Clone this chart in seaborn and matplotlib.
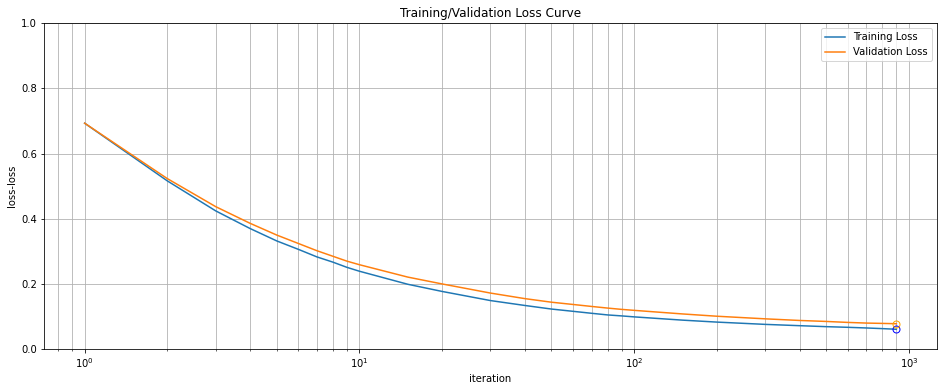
import matplotlib
matplotlib.use("Agg")
import matplotlib.pyplot as plt
import seaborn as sns
import pandas as pd

iterations = [1, 2, 3, 4, 5, 6, 7, 8, 9, 10, 15, 20, 30, 40, 50, 60, 70, 80, 90, 100,
              150, 200, 300, 400, 500, 600, 700, 800, 900]
train_loss = [0.693, 0.516, 0.424, 0.370, 0.332, 0.306, 0.283, 0.267, 0.251, 0.239,
              0.199, 0.177, 0.149, 0.134, 0.123, 0.116, 0.110, 0.105, 0.102, 0.099,
              0.089, 0.083, 0.076, 0.072, 0.069, 0.067, 0.065, 0.063, 0.061]
val_loss = [0.693, 0.523, 0.437, 0.386, 0.350, 0.324, 0.302, 0.285, 0.270, 0.259,
            0.221, 0.200, 0.172, 0.155, 0.144, 0.137, 0.131, 0.126, 0.122, 0.119,
            0.108, 0.101, 0.093, 0.088, 0.085, 0.082, 0.080, 0.079, 0.078]
series_names = ["Training Loss", "Validation Loss"]

df = pd.DataFrame({
    "iteration": iterations * 2,
    "loss": train_loss + val_loss,
    "series": [series_names[0]] * len(iterations) + [series_names[1]] * len(iterations),
})

plt.rcParams["font.family"] = ["DejaVu Sans"]
fig, ax = plt.subplots(figsize=(947 / 72, 391 / 72), dpi=72)
fig.subplots_adjust(left=0.0465, right=0.9894, top=0.941, bottom=0.107)

sns.lineplot(data=df, x="iteration", y="loss", hue="series",
             palette=["#1f77b4", "#ff7f0e"], ax=ax, linewidth=1.5)

ax.plot([iterations[-1]], [train_loss[-1]], marker="o", mfc="none", mec="blue",
        linestyle="none", markersize=7, label="_nolegend_")
ax.plot([iterations[-1]], [val_loss[-1]], marker="o", mfc="none", mec="orange",
        linestyle="none", markersize=7, label="_nolegend_")

ax.set_xscale("log")
ax.set_ylim(0, 1.0)
ax.set_yticks([0.0, 0.2, 0.4, 0.6, 0.8, 1.0])
ax.grid(True, which="both", color="#b0b0b0", linewidth=0.8)
ax.set_axisbelow(True)
ax.set_title("Training/Validation Loss Curve")
ax.set_xlabel("iteration")
ax.set_ylabel("loss-loss")
ax.legend(loc="upper right", title=None)

fig.savefig("out.png", dpi=72)
